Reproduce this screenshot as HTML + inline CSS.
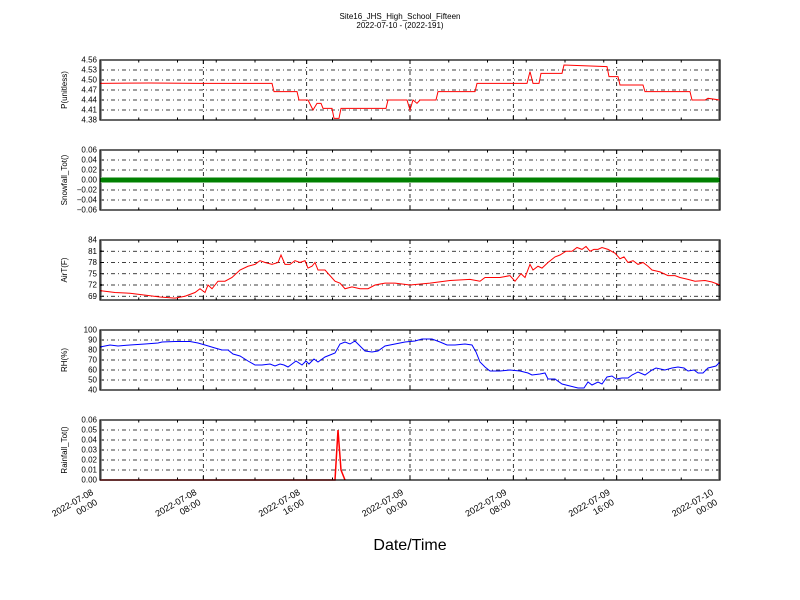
<!DOCTYPE html>
<html><head><meta charset="utf-8"><style>body{margin:0;background:#fff}svg{display:block;font-family:"Liberation Sans","DejaVu Sans",sans-serif}</style></head>
<body>
<svg id="s" width="800" height="600" viewBox="0 0 800 600" xmlns="http://www.w3.org/2000/svg">
<rect width="800" height="600" fill="#fff"/>
<text x="400" y="19" font-size="8" text-anchor="middle">Site16_JHS_High_School_Fifteen</text>
<text x="400" y="28" font-size="8" text-anchor="middle">2022-07-10 - (2022-191)</text>
<text x="410" y="550" font-size="16" text-anchor="middle">Date/Time</text>
<g id="g"></g>
</svg>
<script>
const NS="http://www.w3.org/2000/svg",g=document.getElementById('g');
function el(t,a,txt){const e=document.createElementNS(NS,t);for(const k in a)e.setAttribute(k,a[k]);if(txt!==undefined)e.textContent=txt;g.appendChild(e);return e;}
const X0=100,X1=720,hp=620/48,DA='4,3,1,3';
const panels=[
 {top:60,lab:'P(unitless)',min:4.38,max:4.56,ticks:[4.38,4.41,4.44,4.47,4.50,4.53,4.56],fmt:2},
 {top:150,lab:'Snowfall_Tot()',min:-0.06,max:0.06,ticks:[-0.06,-0.04,-0.02,0,0.02,0.04,0.06],fmt:2},
 {top:240,lab:'AirT(F)',min:68,max:84,ticks:[69,72,75,78,81,84],fmt:0},
 {top:330,lab:'RH(%)',min:40,max:100,ticks:[40,50,60,70,80,90,100],fmt:0},
 {top:420,lab:'Rainfall_Tot()',min:0,max:0.06,ticks:[0,0.01,0.02,0.03,0.04,0.05,0.06],fmt:2}];
const data=[
 {c:'red',w:1,p:[[100,4.49],[150,4.491],[200,4.49],[272,4.49],[274,4.465],[297,4.465],[299,4.44],[308,4.44],[313,4.41],[317,4.43],[321,4.43],[323,4.415],[332,4.415],[334,4.385],[339,4.385],[341,4.415],[386,4.415],[388,4.44],[407,4.44],[410,4.41],[413,4.44],[417,4.43],[420,4.44],[436,4.44],[438,4.465],[475,4.465],[477,4.49],[527,4.49],[530,4.525],[533,4.49],[539,4.49],[541,4.52],[562,4.52],[564,4.545],[607,4.54],[609,4.51],[618,4.51],[620,4.485],[643,4.485],[645,4.465],[690,4.465],[692,4.44],[705,4.44],[708,4.445],[720,4.44]]},
 {c:'red',w:1,p:[[100,70.5],[115,70],[130,69.8],[145,69.3],[160,68.8],[175,68.5],[185,69],[195,70],[200,71],[205,70],[208,72],[212,71],[218,73],[225,73],[232,74],[240,76],[248,77],[255,77.5],[260,78.5],[265,78],[272,77.5],[278,78],[281,80],[285,77.5],[290,77.5],[295,78.5],[300,78],[305,78.5],[308,76.5],[312,77],[315,78],[318,76],[325,76],[330,74.5],[335,73],[340,72.5],[345,71],[352,71.5],[360,71],[368,71],[375,72],[385,72.5],[395,72.5],[410,72],[430,72.5],[450,73.2],[470,73.5],[480,73],[485,74],[500,74],[510,74.5],[515,73],[518,74],[521,75],[525,74],[530,77.5],[533,76],[538,77],[542,76.5],[548,78],[555,79.5],[560,80],[566,81],[572,81],[577,82],[582,81.5],[586,82.3],[590,81],[594,81.5],[598,81.5],[602,82],[608,81.5],[615,80.5],[620,79],[624,79.5],[628,78],[633,78.5],[638,77.5],[643,78],[648,77],[652,76],[660,75.5],[668,74.5],[675,74.5],[680,74],[688,73.5],[695,73],[705,73.2],[712,72.8],[720,72]]},
 {c:'blue',w:1,p:[[100,83],[110,85],[118,84],[130,85],[145,86],[158,87],[162,88],[175,88.5],[190,88.5],[198,87],[205,85],[215,82],[222,80],[228,80],[233,76],[240,74],[248,69],[255,65],[262,65],[270,66],[275,64],[280,66],[284,65],[288,63],[292,66],[296,69],[302,65],[306,69],[309,66],[314,71],[318,68],[325,73],[330,75],[335,77],[340,86],[345,88],[350,86],[355,89],[358,86],[365,79],[372,78],[378,79],[385,84],[395,86],[405,88],[415,89],[422,91],[432,91],[440,88],[447,85],[455,85],[465,86],[472,85],[476,78],[480,68],[485,63],[490,59],[500,59],[510,60],[520,59],[528,57],[532,55],[540,56],[545,57],[548,51],[555,51],[562,46],[570,44],[578,42],[584,42],[588,48],[592,45],[598,48],[602,46],[607,53],[612,54],[616,51],[622,52],[628,52],[632,55],[638,58],[645,55],[652,60],[656,62],[665,60],[672,62],[678,63],[684,62],[688,59],[694,60],[698,57],[703,57],[708,62],[716,64],[720,68]]},
 {c:'red',w:1.5,p:[[100,0],[335,0],[338,0.05],[341,0.01],[345,0]]}];
panels.forEach((P,i)=>{
 const T=P.top,B=T+60,Y=v=>B-(v-P.min)/(P.max-P.min)*60;
 for(let h=8;h<48;h+=8){const x=X0+h*hp;el('line',{x1:x,x2:x,y1:T,y2:B,stroke:'#000','stroke-width':0.8,'stroke-dasharray':DA});}
 P.ticks.forEach(v=>{const y=Y(v);if(y>T+1&&y<B-1)el('line',{x1:X0,x2:X1,y1:y,y2:y,stroke:'#000','stroke-width':0.8,'stroke-dasharray':DA});
  el('line',{x1:X0,x2:X0+4,y1:y,y2:y,stroke:'#000'});el('line',{x1:X1,x2:X1-4,y1:y,y2:y,stroke:'#000'});
  el('text',{x:X0-3,y:y+2.5,'font-size':8,'text-anchor':'end'},v.toFixed(P.fmt).replace('-','\u2212'));});
 for(let k=0;k<=30;k++){const y=T+k*2;el('line',{x1:X0,x2:X0+2,y1:y,y2:y,stroke:'#000','stroke-width':0.8});el('line',{x1:X1,x2:X1-2,y1:y,y2:y,stroke:'#000','stroke-width':0.8});}
 for(let h=0;h<=48;h+=1){if(h%8&&h%3)continue;const x=X0+h*hp,l=h%8==0?4:2.5;el('line',{x1:x,x2:x,y1:B,y2:B-l,stroke:'#000'});el('line',{x1:x,x2:x,y1:T,y2:T+l,stroke:'#000'});}
 if(i==1){el('line',{x1:X0,x2:X1,y1:180,y2:180,stroke:'#008000','stroke-width':5});}
 else{const d=data[i>1?i-1:0];el('polyline',{points:d.p.map(q=>q[0]+','+Y(q[1]).toFixed(2)).join(' '),fill:'none',stroke:d.c,'stroke-width':d.w});}
 el('rect',{x:X0,y:T,width:620,height:60,fill:'none',stroke:'#000','stroke-width':1.2});
 el('text',{x:0,y:0,'font-size':8,'text-anchor':'middle',transform:`translate(67,${T+30}) rotate(-90)`},P.lab);
});
const dl=['2022-07-08','2022-07-08','2022-07-08','2022-07-09','2022-07-09','2022-07-09','2022-07-10'],tl=['00:00','08:00','16:00','00:00','08:00','16:00','00:00'];
for(let k=0;k<7;k++){const x=X0+k*8*hp;
 el('text',{x:0,y:0,'font-size':9,'text-anchor':'end',transform:`translate(${x-6},${494}) rotate(-30)`},dl[k]);
 el('text',{x:0,y:0,'font-size':9,'text-anchor':'end',transform:`translate(${x-2},${504}) rotate(-30)`},tl[k]);}
</script>
</body></html>
